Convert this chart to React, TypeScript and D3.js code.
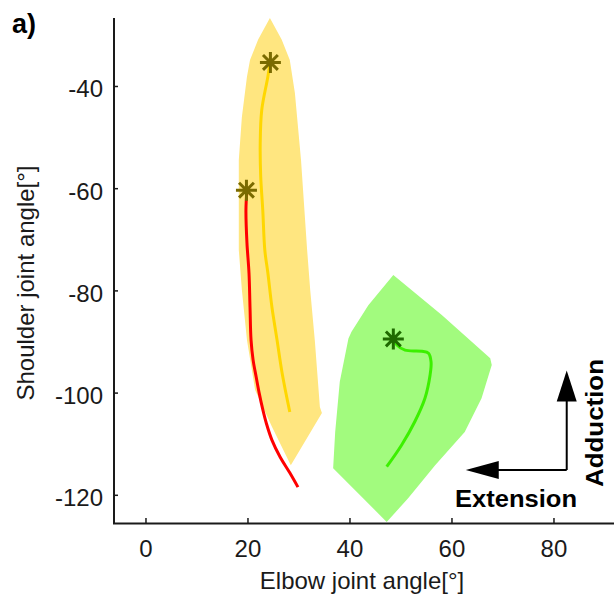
import React from "react";
import * as d3 from "d3";

// ---- data (elbow angle, shoulder angle) ----
const yellowRegion: [number, number][] = [
  [24.3, -26.6], [26.6, -30.8], [28.2, -34.8], [29.2, -41.3], [30.4, -54.4], [31.6, -72.0],
  [32.2, -79.8], [33.1, -89.6], [34.1, -102.7], [34.5, -103.9], [28.4, -114.1],
  [24.7, -106.6], [21.4, -99.4], [19.8, -89.6], [18.8, -79.8], [18.2, -72.0],
  [18.2, -54.4], [18.8, -46.0], [19.8, -38.1], [20.4, -34.8], [22.0, -30.8],
];
const greenRegion: [number, number][] = [
  [48.5, -76.9], [58.0, -84.7], [67.5, -93.2], [67.8, -94.5], [65.8, -101.0],
  [62.5, -107.6], [56.7, -114.1], [51.4, -120.6], [47.2, -125.2], [36.7, -114.7],
  [37.1, -107.6], [38.0, -97.8], [39.7, -89.3], [40.3, -88.0], [43.6, -82.8],
];
const yellowPath: [number, number][] = [
  [24.3, -35.4], [23.9, -38.1], [22.7, -44.6], [22.4, -51.1], [22.5, -57.7],
  [22.9, -64.2], [23.3, -72.0], [23.9, -76.5], [24.7, -83.2], [25.7, -89.6],
  [26.7, -96.1], [28.2, -103.7],
];
const redPath: [number, number][] = [
  [19.8, -60.3], [19.6, -64.2], [19.8, -70.6], [20.2, -76.5], [20.4, -83.2],
  [20.6, -89.6], [21.0, -93.5], [21.6, -96.8], [22.2, -100.0], [22.9, -103.2],
  [23.6, -105.9], [24.7, -109.2], [26.3, -112.5], [28.2, -115.6], [29.8, -118.4],
];
const greenPath: [number, number][] = [
  [48.5, -89.4], [49.2, -90.6], [50.8, -91.6], [54.1, -91.8], [55.4, -92.2],
  [55.9, -93.9], [55.7, -96.5], [54.7, -101.0], [52.7, -105.6], [50.1, -110.2],
  [47.2, -114.4],
];
const startMarkers = [
  { x: 24.4, y: -35.3, color: "#7a6a00" },
  { x: 19.7, y: -60.3, color: "#7a6a00" },
  { x: 48.5, y: -89.4, color: "#1f6a00" },
];
const xTicks = [0, 20, 40, 60, 80];
const yTicks = [-40, -60, -80, -100, -120];
// direction arrows (data coords): corner, extension tip, adduction tip
const arrowCorner: [number, number] = [82.5, -115.05];
const extensionTip: [number, number] = [62.7, -115.05];
const adductionTip: [number, number] = [82.5, -95.6];

export default function App() {
  const W = 614, H = 603;
  const x = d3.scaleLinear().domain([-6.27, 91.77]).range([114, 614]);
  const y = d3.scaleLinear().domain([-125.42, -26.6]).range([523, 18]);
  const area = d3.line<[number, number]>().x(d => x(d[0])).y(d => y(d[1])).curve(d3.curveLinearClosed);
  const line = d3.line<[number, number]>().x(d => x(d[0])).y(d => y(d[1])).curve(d3.curveCatmullRom);
  const font = "'Liberation Sans', Arial, sans-serif";
  const ink = "#1a1a1a";

  const star = (cx: number, cy: number, r: number) => {
    const segs: string[] = [];
    for (let i = 0; i < 4; i++) {
      const a = (i * Math.PI) / 4;
      const dx = r * Math.cos(a), dy = r * Math.sin(a);
      segs.push(`M${cx - dx},${cy - dy}L${cx + dx},${cy + dy}`);
    }
    return segs.join("");
  };

  const cX = x(arrowCorner[0]), cY = y(arrowCorner[1]);
  const eX = x(extensionTip[0]);
  const aY = y(adductionTip[1]);

  return (
    <svg width={W} height={H} style={{ position: "fixed", left: 0, top: 0, background: "#fff" }}
      fontFamily={font}>
      <rect width={W} height={H} fill="#fff" />
      <path d={area(yellowRegion) || ""} fill="#ffe680" />
      <path d={area(greenRegion) || ""} fill="#a2fb7e" />
      <path d={line(yellowPath) || ""} fill="none" stroke="#ffd700" strokeWidth={3} />
      <path d={line(redPath) || ""} fill="none" stroke="#ff0000" strokeWidth={3} />
      <path d={line(greenPath) || ""} fill="none" stroke="#3cf000" strokeWidth={3} />
      {startMarkers.map((m, i) => (
        <path key={i} d={star(x(m.x), y(m.y), 10.5)} stroke={m.color} strokeWidth={3} />
      ))}

      {/* axes */}
      <line x1={114} y1={18} x2={114} y2={524} stroke={ink} strokeWidth={2} />
      <line x1={113} y1={523.5} x2={614} y2={523.5} stroke={ink} strokeWidth={2} />
      {xTicks.map(t => (
        <g key={t}>
          <line x1={x(t)} x2={x(t)} y1={523} y2={518} stroke={ink} strokeWidth={1.5} />
          <text x={x(t)} y={557} textAnchor="middle" fontSize={24} fill={ink}>{t}</text>
        </g>
      ))}
      {yTicks.map(t => (
        <g key={t}>
          <line x1={114} x2={118} y1={y(t)} y2={y(t)} stroke={ink} strokeWidth={1.5} />
          <text x={103} y={y(t) + 11} textAnchor="end" fontSize={24} fill={ink}>{t}</text>
        </g>
      ))}
      <text x={362} y={589} textAnchor="middle" fontSize={24} fill={ink}>Elbow joint angle[°]</text>
      <text transform={`translate(34,283) rotate(-90)`} textAnchor="middle" fontSize={24} fill={ink}>
        Shoulder joint angle[°]
      </text>
      <text x={12} y={33} fontSize={27} fontWeight="bold" fill="#000">a)</text>

      {/* direction arrows */}
      <line x1={cX} y1={cY} x2={eX + 30} y2={cY} stroke="#000" strokeWidth={2} />
      <line x1={cX} y1={cY} x2={cX} y2={aY + 28} stroke="#000" strokeWidth={2} />
      <path d={`M${eX},${cY}L${eX + 33},${cY - 9}L${eX + 33},${cY + 9}Z`} fill="#000" />
      <path d={`M${cX},${aY}L${cX - 10},${aY + 31}L${cX + 10},${aY + 31}Z`} fill="#000" />
      <text x={455} y={507} fontSize={23} fontWeight="bold" fill="#000" textLength={122}
        lengthAdjust="spacingAndGlyphs">Extension</text>
      <text transform="translate(603,487) rotate(-90)" fontSize={23} fontWeight="bold" fill="#000"
        textLength={128} lengthAdjust="spacingAndGlyphs">Adduction</text>
    </svg>
  );
}
